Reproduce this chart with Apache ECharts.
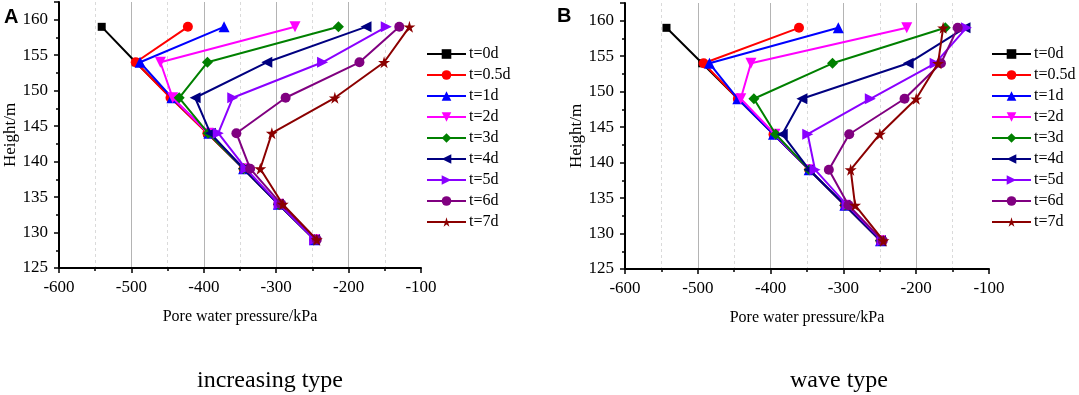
<!DOCTYPE html>
<html>
<head>
<meta charset="utf-8">
<script src="https://cdn.jsdelivr.net/npm/echarts@6/dist/echarts.min.js"></script>
<style>
  html, body { margin: 0; padding: 0; background: #fff; }
  #graph { width: 1079px; height: 395px; }
</style>
</head>
<body>
<div id="graph"></div>
<script>
// heights of the measuring points (m)
const heights = [159, 154, 149, 144, 139, 134, 129];
const seriesNames = ['t=0d', 't=0.5d', 't=1d', 't=2d', 't=3d', 't=4d', 't=5d', 't=6d', 't=7d'];

// pore water pressure (kPa), one array per time, same order as heights
// A: increasing type
const incT0  = [-541, -494, -445, -395, -345, -297, -247];
const incT05 = [-422, -494, -446, -395, -345, -297, -247];
const incT1  = [-372, -488, -444, -393, -345, -297, -247];
const incT2  = [-274, -460, -443, -394, -344, -297, -247];
const incT3  = [-214, -395, -434, -394, -345, -297, -247];
const incT4  = [-176, -313, -412, -391, -345, -297, -247];
const incT5  = [-148, -236, -360, -380, -342, -296, -247];
const incT6  = [-130, -185, -287, -355, -336, -293, -244];
const incT7  = [-116, -151, -219, -306, -322, -291, -244];

// B: wave type
const wavT0  = [-543, -494, -445, -396, -347, -298, -249];
const wavT05 = [-361, -492, -445, -396, -347, -298, -249];
const wavT1  = [-307, -484, -445, -396, -347, -298, -249];
const wavT2  = [-213, -427, -441, -394, -347, -298, -249];
const wavT3  = [-160, -315, -423, -393, -347, -298, -249];
const wavT4  = [-133, -211, -357, -384, -347, -298, -249];
const wavT5  = [-131, -174, -263, -349, -339, -295, -247];
const wavT6  = [-143, -166, -216, -292, -320, -293, -246];
const wavT7  = [-163, -170, -200, -250, -290, -284, -245];

const xTicks = [-600, -500, -400, -300, -200, -100];

const colors = ['#000000', '#ff0000', '#0000ff', '#ff00ff', '#008000', '#000080', '#8a00ff', '#800080', '#8b0000'];
const symbols = [
  'rect',
  'circle',
  'triangle',
  'path://M0,0 L10,0 L5,9 Z',
  'diamond',
  'path://M9,0 L9,10 L0,5 Z',
  'path://M0,0 L9,5 L0,10 Z',
  'circle',
  'path://M50,0 L61,35 L98,35 L68,57 L79,91 L50,70 L21,91 L32,57 L2,35 L39,35 Z'
];
const symSizes = [8, 10, 11, 11, 11, 11, 11, 10, 12];

const serif = 'Liberation Serif, Times New Roman, serif';

const incData = [incT0, incT05, incT1, incT2, incT3, incT4, incT5, incT6, incT7];
const wavData = [wavT0, wavT05, wavT1, wavT2, wavT3, wavT4, wavT5, wavT6, wavT7];

function makeSeries(sets, idx) {
  return sets.map((vals, i) => ({
    name: seriesNames[i],
    type: 'line',
    xAxisIndex: idx,
    yAxisIndex: idx,
    data: vals.map((v, k) => [v, heights[k]]),
    symbol: symbols[i],
    symbolSize: symSizes[i],
    color: colors[i],
    lineStyle: { width: 2, color: colors[i] },
    itemStyle: { color: colors[i] },
    z: 2 + i
  }));
}

function xAxisOf(idx) {
  return {
    gridIndex: idx,
    type: 'value',
    min: -600,
    max: -100,
    interval: 100,
    name: 'Pore water pressure/kPa',
    nameLocation: 'middle',
    nameGap: 41,
    nameTextStyle: { fontFamily: serif, fontSize: 16, color: '#000' },
    axisLine: { show: true, onZero: false, lineStyle: { color: '#000', width: 2 } },
    axisTick: { show: true, length: 5, lineStyle: { color: '#000', width: 1.5 } },
    minorTick: { show: true, splitNumber: 2, length: 3, lineStyle: { color: '#000', width: 1.5 } },
    axisLabel: { margin: 11, fontFamily: serif, fontSize: 17, color: '#000',
      formatter: v => xTicks.includes(v) ? String(v) : '' },
    splitLine: { show: true, showMinLine: false, showMaxLine: false, lineStyle: { color: '#b4b4b4', width: 1 } },
    minorSplitLine: { show: true, lineStyle: { color: '#dadada', type: [3, 3], width: 1 } }
  };
}

function yAxisOf(idx) {
  return {
    gridIndex: idx,
    type: 'value',
    min: 125,
    max: 162.5,
    interval: 5,
    name: 'Height/m',
    nameLocation: 'middle',
    nameGap: 40,
    nameTextStyle: { fontFamily: serif, fontSize: 17, color: '#000' },
    axisLine: { show: true, onZero: false, lineStyle: { color: '#000', width: 2 } },
    axisTick: { show: true, length: 5, lineStyle: { color: '#000', width: 1.5 } },
    minorTick: { show: true, splitNumber: 2, length: 3, lineStyle: { color: '#000', width: 1.5 } },
    axisLabel: { margin: 11, fontFamily: serif, fontSize: 17, color: '#000',
      formatter: v => (v % 5 === 0 ? String(v) : '') },
    splitLine: { show: false }
  };
}

function legendOf(left) {
  return {
    data: seriesNames,
    orient: 'vertical',
    left: left,
    top: 46,
    padding: 0,
    itemWidth: 39,
    itemHeight: 12,
    itemGap: 5,
    textStyle: { fontFamily: serif, fontSize: 16, color: '#000', padding: [0, 0, 0, -2] }
  };
}

const chart = echarts.init(document.getElementById('graph'));
chart.setOption({
  animation: false,
  backgroundColor: '#fff',
  grid: [
    { left: 59, top: 2, width: 362, height: 266 },
    { left: 625, top: 3, width: 364, height: 266 }
  ],
  xAxis: [xAxisOf(0), xAxisOf(1)],
  yAxis: [yAxisOf(0), yAxisOf(1)],
  legend: [legendOf(426), legendOf(991)],
  graphic: [
    { type: 'text', left: 4, top: 7, style: { text: 'A', font: 'bold 20px Liberation Sans, Arial, sans-serif', fill: '#000' } },
    { type: 'text', left: 557, top: 6, style: { text: 'B', font: 'bold 20px Liberation Sans, Arial, sans-serif', fill: '#000' } },
    { type: 'text', x: 270, y: 381, style: { text: 'increasing type', font: '24px ' + serif, fill: '#000', align: 'center', verticalAlign: 'middle' } },
    { type: 'text', x: 839, y: 381, style: { text: 'wave type', font: '24px ' + serif, fill: '#000', align: 'center', verticalAlign: 'middle' } }
  ],
  series: makeSeries(incData, 0).concat(makeSeries(wavData, 1))
});
</script>
</body>
</html>
